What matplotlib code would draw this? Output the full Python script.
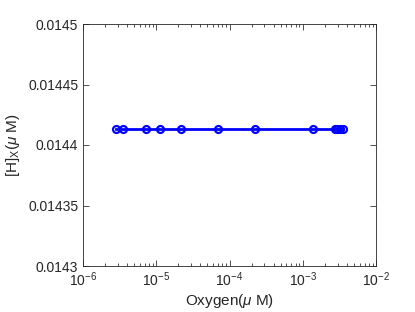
import matplotlib
matplotlib.use("Agg")
import matplotlib.pyplot as plt
from matplotlib.ticker import NullFormatter, NullLocator, FixedLocator
import numpy as np

oxygen = [2.82e-6, 3.55e-6, 7.2e-6, 1.12e-5, 2.2e-5, 7.0e-5, 2.2e-4, 1.39e-3, 2.75e-3, 2.96e-3, 3.22e-3, 3.58e-3]
hx = [0.014413] * len(oxygen)
yticks = [0.0143, 0.01435, 0.0144, 0.01445, 0.0145]
ytick_labels = ["0.0143", "0.01435", "0.0144", "0.01445", "0.0145"]

plt.rcParams.update({
    'font.family': ['Liberation Sans', 'DejaVu Sans'],
    'mathtext.fontset': 'custom',
    'mathtext.rm': 'Liberation Sans',
    'mathtext.it': 'Liberation Sans:italic',
    'xtick.direction': 'in',
    'ytick.direction': 'in',
    'xtick.top': True,
    'xtick.bottom': True,
    'ytick.left': True,
    'ytick.right': True,
    'xtick.major.size': 4,
    'ytick.major.size': 4,
    'xtick.minor.size': 2.5,
    'xtick.major.width': 0.6,
    'ytick.major.width': 0.6,
    'xtick.minor.width': 0.6,
    'xtick.color': '#333333',
    'ytick.color': '#333333',
    'xtick.labelcolor': '#262626',
    'ytick.labelcolor': '#262626',
    'xtick.labelsize': 10,
    'ytick.labelsize': 10,
    'axes.linewidth': 0.6,
    'axes.edgecolor': '#262626',
})

fig = plt.figure(figsize=(4.15, 3.12), dpi=100)
ax = fig.add_axes([83/415, 1-266/312, (376-83)/415, (266-24)/312])
ax.plot(oxygen, hx, '-o', color='#0000ff', lw=2, ms=5, mfc='none', mew=1.6)
ax.set_xscale('log')
ax.set_xlim(1e-6, 1e-2)
ax.set_ylim(0.0143, 0.0145)
minor_pos = [m * 10.0**e for e in range(-6, -2) for m in range(2, 10)]
ax.xaxis.set_minor_locator(FixedLocator(minor_pos))
ax.xaxis.set_minor_formatter(NullFormatter())
ax.yaxis.set_minor_locator(NullLocator())
ax.set_yticks(yticks)
ax.set_yticklabels(ytick_labels)
ax.set_xlabel(r'Oxygen($\mu$ M)', fontsize=11, color='#262626', labelpad=2)
ax.set_ylabel(r'[H]$_{\mathrm{X}}$($\mu$ M)', fontsize=11, color='#262626', labelpad=4)
fig.savefig('out.png', dpi=100)
